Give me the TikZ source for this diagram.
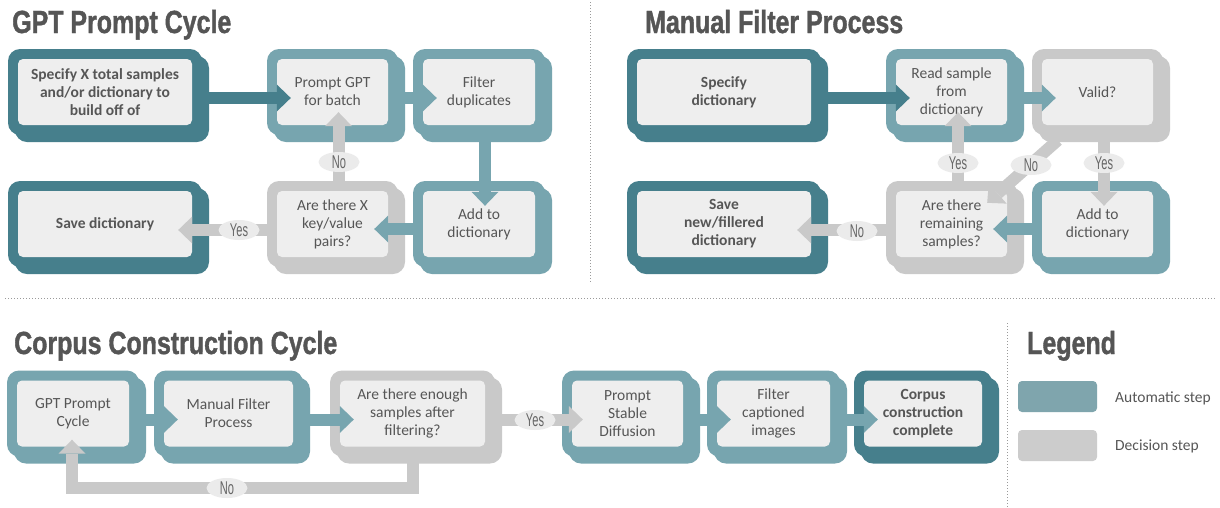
\documentclass[tikz,border=0pt]{standalone}
\usepackage{fontspec}
\setmainfont{Carlito}
\newfontfamily\titlefont[FakeStretch=0.78,FakeBold=1.2]{Liberation Sans}
\newfontfamily\labfont[FakeStretch=0.6]{Liberation Sans}
\usetikzlibrary{arrows.meta,calc,shapes.geometric}
\definecolor{darkc}{HTML}{467F8C}
\definecolor{lightc}{HTML}{77A5AF}
\definecolor{grayc}{HTML}{C9C9C9}
\definecolor{innerc}{HTML}{EEEEEE}
\definecolor{textc}{HTML}{565656}
\definecolor{titlec}{HTML}{555555}
\definecolor{labfill}{HTML}{EBEBEB}
\definecolor{labtext}{HTML}{666666}
\definecolor{legteal}{HTML}{7FA5AD}
\definecolor{leggray}{HTML}{CCCCCC}
\definecolor{dotc}{HTML}{9A9A9A}
\tikzset{
  innerbox/.style={fill=innerc, rounded corners=5pt, minimum height=66pt, inner sep=0pt,
    align=center, text=textc, font=\fontsize{15.5}{18}\selectfont},
  flow/.style={line width=12pt, -{Triangle[width=27pt,length=14pt,line width=0pt]}},
  lab/.style={ellipse, fill=labfill, minimum width=41pt, minimum height=20pt, inner sep=0pt,
    text=labtext, font=\labfont\fontsize{18.5}{18.5}\selectfont},
  ttl/.style={anchor=base west, inner sep=0pt, text=titlec, font=\titlefont\bfseries\fontsize{32}{36}\selectfont},
  sep/.style={dotc, line width=1pt, dash pattern=on 1pt off 2pt},
  legsw/.style={rounded corners=4pt, minimum width=79pt, minimum height=31pt, inner sep=0pt},
  legtx/.style={anchor=west, inner sep=0pt, text=textc, font=\fontsize{15.5}{18}\selectfont}
}
% name, cx, cy, inner width, colour, text
\newcommand\stepbox[6]{%
  \fill[#5, rounded corners=12pt] ({#2-#4/2-3},{#3-36}) rectangle ({#2+#4/2+17},{#3+50});
  \fill[#5, rounded corners=12pt] ({#2-#4/2-10},{#3-43}) rectangle ({#2+#4/2+10},{#3+43});
  \node[innerbox, minimum width=#4pt] (#1) at (#2,#3) {#6};
}
\begin{document}
\begin{tikzpicture}[x=1pt,y=-1pt]
\useasboundingbox[fill=white] (0,0) rectangle (1220,507);

% separators
\draw[sep] (590,2) -- (590,282);
\draw[sep] (5,298) -- (1215,298);
\draw[sep] (1007,323) -- (1007,507);

% titles
\node[ttl] (t1) at (12,33) {GPT Prompt Cycle};
\node[ttl] (t2) at (645,33) {Manual Filter Process};
\node[ttl] (t3) at (14,354) {Corpus Construction Cycle};
\node[ttl] (t4) at (1027,354) {Legend};

% GPT Prompt Cycle
\stepbox{A}{105}{92}{174}{darkc}{\bfseries Specify X total samples\\\bfseries and/or dictionary to\\\bfseries build off of}
\stepbox{B}{332.5}{92}{111}{lightc}{Prompt GPT\\for batch}
\stepbox{C}{479}{92}{112}{lightc}{Filter\\duplicates}
\stepbox{F}{105}{224}{174}{darkc}{\bfseries Save dictionary}
\stepbox{E}{332.5}{224}{111}{grayc}{Are there X\\key/value\\pairs?}
\stepbox{D}{479}{224}{112}{lightc}{Add to\\dictionary}

% Manual Filter Process
\stepbox{G}{724}{92}{174}{darkc}{\bfseries Specify\\\bfseries dictionary}
\stepbox{R}{951.5}{92}{111}{lightc}{Read sample\\from\\dictionary}
\stepbox{V}{1097.5}{92}{111}{grayc}{Valid?}
\stepbox{S}{724}{224}{174}{darkc}{\bfseries Save\\\bfseries new/fillered\\\bfseries dictionary}
\stepbox{M}{951.5}{224}{111}{grayc}{Are there\\remaining\\samples?}
\stepbox{N}{1097.5}{224}{111}{lightc}{Add to\\dictionary}

% Corpus Construction Cycle
\stepbox{P1}{73}{413.5}{112}{lightc}{GPT Prompt\\Cycle}
\stepbox{P2}{228.5}{413.5}{129}{lightc}{Manual Filter\\Process}
\stepbox{P3}{412.5}{413.5}{145}{grayc}{Are there enough\\samples after\\filtering?}
\stepbox{P4}{627.5}{413.5}{111}{lightc}{Prompt\\Stable\\Diffusion}
\stepbox{P5}{773.5}{413.5}{113}{lightc}{Filter\\captioned\\images}
\stepbox{P6}{923}{413.5}{118}{darkc}{\bfseries Corpus\\\bfseries construction\\\bfseries complete}

% GPT arrows
\draw[flow, darkc] ($(A.east)+(10,6)$) -- ($(B.west)+(14,6)$);
\draw[flow, lightc] ($(B.east)+(10,6)$) -- ($(C.west)+(14,6)$);
\draw[flow, lightc] ($(C.south)+(6,10)$) -- ($(D.north)+(6,15)$);
\draw[flow, lightc] ($(D.west)+(-10,5)$) -- ($(E.east)+(-14,5)$);
\draw[flow, grayc] ($(E.north)+(6,-10)$) -- ($(B.south)+(6,-13)$);
\draw[flow, grayc] ($(E.west)+(-10,6)$) -- ($(F.east)+(-14,6)$);
\node[lab] (l1) at (339,162) {No};
\node[lab] (l2) at (239,230) {Yes};

% Manual filter arrows
\draw[flow, darkc] ($(G.east)+(10,6)$) -- ($(R.west)+(14,6)$);
\draw[flow, lightc] ($(R.east)+(10,6)$) -- ($(V.west)+(14,6)$);
\draw[flow, grayc] ($(V.south)+(6.5,10)$) -- ($(N.north)+(6.5,15)$);
\draw[flow, grayc] ($(V.south west)+(16,15)$) -- ($(M.north east)+(-20,12)$);
\draw[flow, lightc] ($(N.west)+(-10,5)$) -- ($(M.east)+(-14,5)$);
\draw[flow, grayc] ($(M.north)+(6.5,-10)$) -- ($(R.south)+(6.5,-13)$);
\draw[flow, grayc] ($(M.west)+(-10,6)$) -- ($(S.east)+(-14,6)$);
\node[lab] (l3) at (958,163) {Yes};
\node[lab] (l4) at (1031,165) {No};
\node[lab] (l5) at (1104,163) {Yes};
\node[lab] (l6) at (857,231) {No};

% Corpus arrows
\draw[flow, lightc] ($(P1.east)+(10,6)$) -- ($(P2.west)+(14,6)$);
\draw[flow, lightc] ($(P2.east)+(10,6)$) -- ($(P3.west)+(14,6)$);
\draw[flow, grayc] ($(P3.east)+(10,6)$) -- ($(P4.west)+(11,6)$);
\draw[flow, lightc] ($(P4.east)+(10,6)$) -- ($(P5.west)+(14,6)$);
\draw[flow, lightc] ($(P5.east)+(10,6)$) -- ($(P6.west)+(14,6)$);
\draw[flow, grayc] ($(P3.south)+(0.5,10)$) -- ($(P3.south)+(0.5,41.5)$) -| ($(P1.south)+(-1,-7)$);
\node[lab] (l7) at (227,488) {No};
\node[lab] (l8) at (535,420) {Yes};

% Legend
\node[legsw, fill=legteal] (k1) at (1057.5,396.5) {};
\node[legsw, fill=leggray] (k2) at (1057.5,445.5) {};
\node[legtx] (k1t) at (1115,398) {Automatic step};
\node[legtx] (k2t) at (1115,446) {Decision step};
\end{tikzpicture}
\end{document}
